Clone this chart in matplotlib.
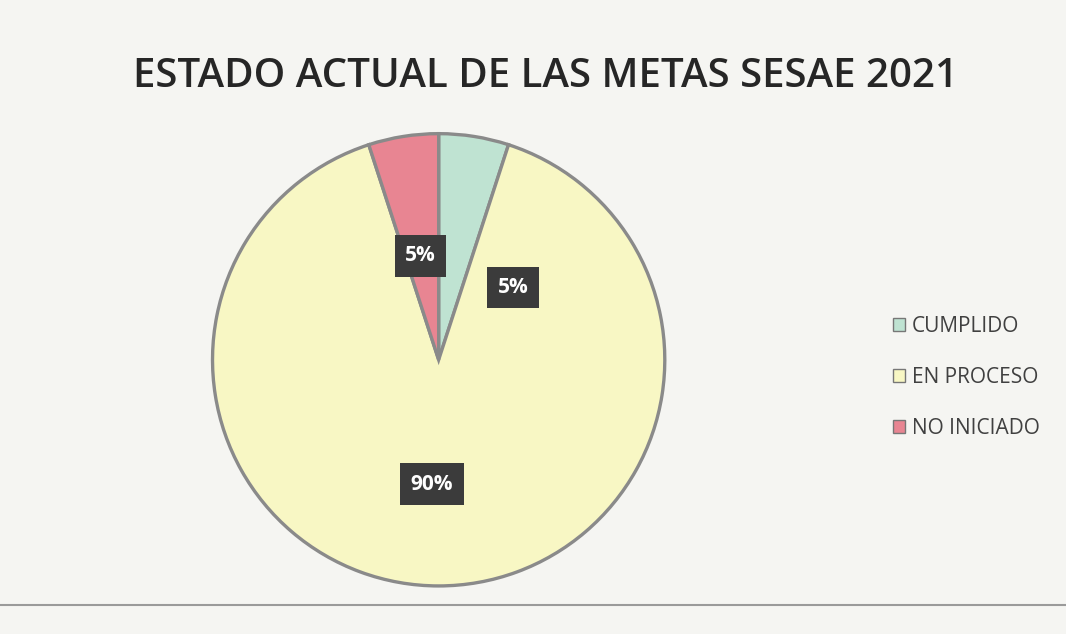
import matplotlib
matplotlib.use("Agg")
import matplotlib.pyplot as plt
from matplotlib.patches import Rectangle

categories = ["CUMPLIDO", "EN PROCESO", "NO INICIADO"]
values = [5, 90, 5]
pct_labels = ["5%", "90%", "5%"]
colors = ["#bfe3d2", "#f8f7c4", "#e88592"]
label_pos = [(0.33, 0.32), (-0.03, -0.55), (-0.08, 0.46)]

fig = plt.figure(figsize=(10.66, 6.34), dpi=100)
fig.patch.set_facecolor("#f5f5f2")

fig.text(0.512, 0.878, "ESTADO ACTUAL DE LAS METAS SESAE 2021", ha="center", va="center",
         fontsize=29, fontweight="semibold", color="#262626", family="Open Sans")

ax = fig.add_axes([0.193, 0.065, 0.437, 0.735])
ax.set_facecolor("none")
wedges, _ = ax.pie(values, colors=colors, startangle=90, counterclock=False,
                   wedgeprops=dict(edgecolor="#8a8a8a", linewidth=2.4))
ax.set_aspect("equal")
ax.set_xlim(-1.03, 1.03)
ax.set_ylim(-1.03, 1.03)

for (x, y), t in zip(label_pos, pct_labels):
    ax.text(x, y, t, ha="center", va="center", fontsize=15, fontweight="bold",
            color="white", family="Open Sans",
            bbox=dict(boxstyle="square,pad=0.5", facecolor="#3b3b3b", edgecolor="none"))

handles = [Rectangle((0, 0), 1, 1, facecolor=c, edgecolor="#777777") for c in colors]
leg = fig.legend(handles, categories, loc="center left", bbox_to_anchor=(0.82, 0.405),
                 frameon=False, handlelength=0.6, handleheight=0.6,
                 handletextpad=0.3, labelspacing=1.45, prop=dict(family="Open Sans", size=15))
for t in leg.get_texts():
    t.set_color("#404040")

fig.add_artist(plt.Line2D([0.0, 1.0], [0.045, 0.045], color="#9a9a9a", linewidth=1.5))

fig.savefig("out.png", dpi=100, facecolor=fig.get_facecolor())
